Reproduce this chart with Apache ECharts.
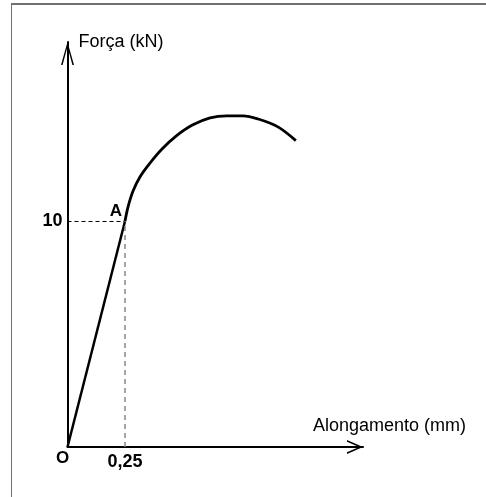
<!DOCTYPE html>
<html>
<head>
<meta charset="utf-8">
<script src="https://cdn.jsdelivr.net/npm/echarts@6/dist/echarts.min.js"></script>
<style>
  html, body { margin: 0; padding: 0; background: #fff; }
  #frame { position: absolute; left: 11px; top: 3px; width: 600px; height: 600px;
           border-left: 1.5px solid #707070; border-top: 2px solid #707070; }
  #chart { position: absolute; left: 0; top: 0; width: 486px; height: 497px; }
</style>
</head>
<body>
<div id="frame"></div>
<div id="chart"></div>
<script>
// Data (alongamento in mm, força in kN)
const elasticX = [0, 0.25];
const elasticY = [0, 10];
const plasticX = [0.25, 0.263, 0.285, 0.315, 0.359, 0.411, 0.472, 0.543, 0.620, 0.693, 0.763, 0.829, 0.915, 0.993];
const plasticY = [10, 10.63, 11.34, 11.96, 12.58, 13.20, 13.77, 14.26, 14.58, 14.67, 14.67, 14.53, 14.18, 13.57];
const pointA = [0.25, 10];
const xTickLabels = { '0.25': '0,25' };
const yTickLabels = { '10': '10' };
const xName = 'Alongamento (mm)';
const yName = 'Força (kN)';
const pointLabels = [{ name: 'O', value: [0, 0] }, { name: 'A', value: pointA }];

const chart = echarts.init(document.getElementById('chart'), null, { renderer: 'canvas' });
const font = "'Liberation Sans', Arial, sans-serif";
const chevronY = 'path://M6.5,0 L13,23 L11.4,23 L6.5,4.5 L1.6,23 L0,23 Z';
const chevronX = 'path://M7,0 L14,16 L12.2,16 L7,4 L1.8,16 L0,16 Z';

const option = {
  animation: false,
  grid: { left: 67.5, right: 123, top: 42, bottom: 50, containLabel: false },
  xAxis: {
    type: 'value', min: 0, max: 1.285, interval: 0.25,
    name: xName, nameLocation: 'end', nameGap: -50,
    nameTextStyle: { fontFamily: font, fontSize: 18, color: '#000', align: 'left', verticalAlign: 'bottom', padding: [0, 0, 12, 0] },
    axisLine: { show: true, lineStyle: { color: '#000', width: 2 }, symbol: ['none', chevronX], symbolSize: [14, 16], symbolOffset: [0, -8] },
    axisTick: { show: false }, splitLine: { show: false },
    axisLabel: { margin: 6, fontFamily: font, fontSize: 18, fontWeight: 'bold', color: '#000',
      showMaxLabel: false,
      formatter: v => xTickLabels[String(v)] || '' }
  },
  yAxis: {
    type: 'value', min: 0, max: 17.94, interval: 10,
    name: yName, nameLocation: 'end', nameGap: 0,
    nameTextStyle: { fontFamily: font, fontSize: 18, color: '#000', align: 'left', verticalAlign: 'middle', padding: [0, 0, 0, 11] },
    axisLine: { show: true, lineStyle: { color: '#000', width: 2 }, symbol: ['none', chevronY], symbolSize: [13, 23], symbolOffset: [0, -11.5] },
    axisTick: { show: false }, splitLine: { show: false },
    axisLabel: { margin: 5, fontFamily: font, fontSize: 18, fontWeight: 'bold', color: '#000',
      showMaxLabel: false,
      formatter: v => yTickLabels[String(v)] || '' }
  },
  series: [
    {
      type: 'line', data: elasticX.map((x, i) => [x, elasticY[i]]),
      symbol: 'none', lineStyle: { color: '#000', width: 2.5 },
      markLine: {
        silent: true, symbol: 'none', label: { show: false },
        data: [
          [{ coord: [0, pointA[1]], lineStyle: { color: '#000', type: [4, 3], width: 1 } }, { coord: pointA }],
          [{ coord: [pointA[0], 0], lineStyle: { color: '#888', type: [5, 4], width: 1.5 } }, { coord: pointA }]
        ]
      }
    },
    {
      type: 'line', data: plasticX.map((x, i) => [x, plasticY[i]]),
      symbol: 'none', smooth: 0.35, lineStyle: { color: '#000', width: 2.8 }
    },
    {
      type: 'scatter', symbolSize: 0, z: 10,
      itemStyle: { opacity: 1, color: '#000' },
      data: pointLabels.map(p => ({ value: p.value, name: p.name })),
      label: {
        show: true, position: [0, 0], align: 'center', verticalAlign: 'middle', opacity: 1,
        fontFamily: font, fontSize: 17, fontWeight: 'bold', color: '#000',
        formatter: p => p.name
      }
    }
  ]
};
option.series[2].data[0].label = { offset: [-5, 11] };
option.series[2].data[1].label = { offset: [-9, -10] };
chart.setOption(option);
</script>
</body>
</html>
